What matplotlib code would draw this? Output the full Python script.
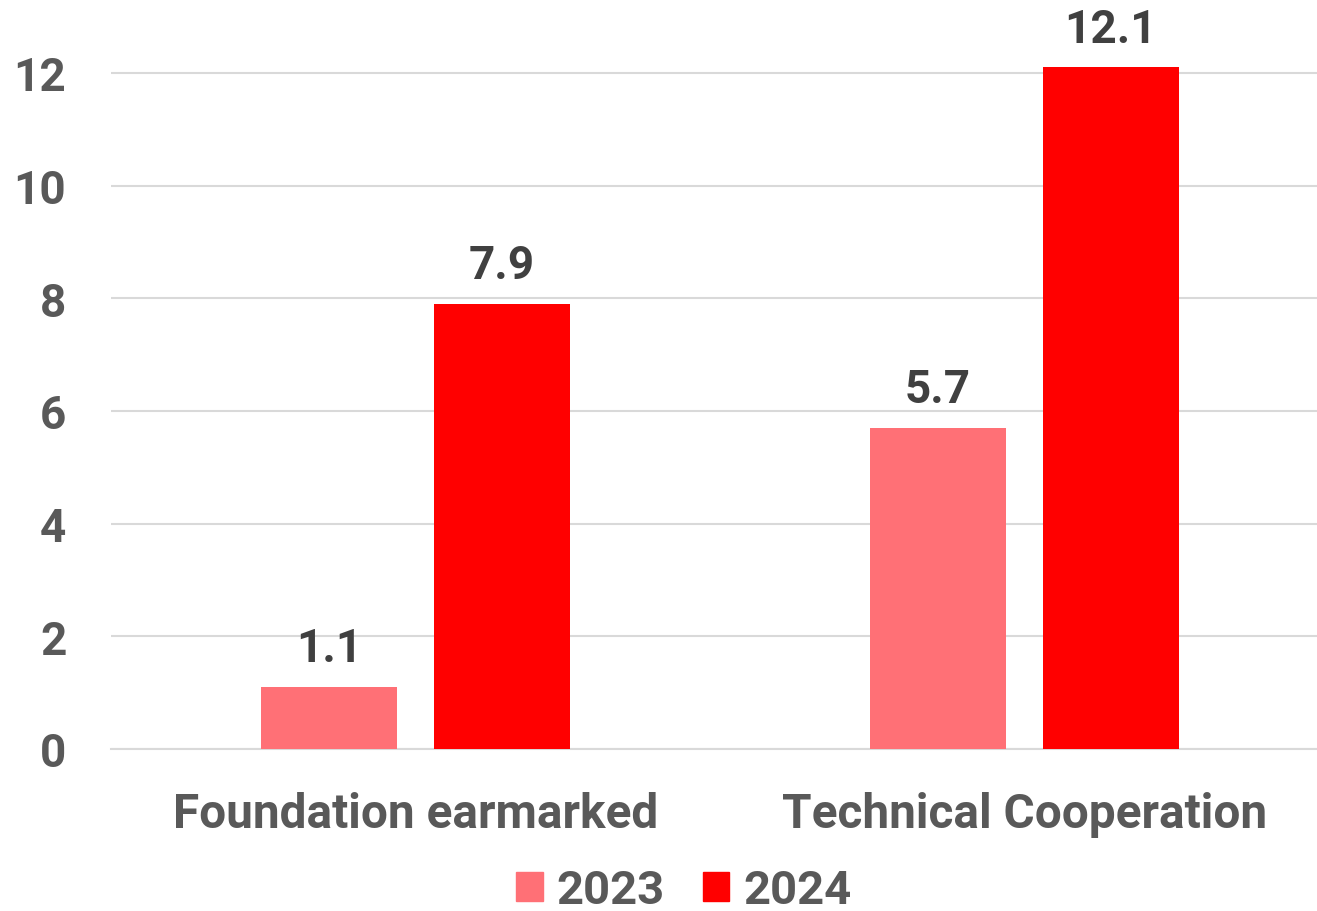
import matplotlib
matplotlib.use("Agg")
import matplotlib.pyplot as plt
import numpy as np
from matplotlib.patches import Patch

categories = ["Foundation earmarked", "Technical Cooperation"]
series_names = ["2023", "2024"]
values_2023 = [1.1, 5.7]
values_2024 = [7.9, 12.1]
yticks = [0, 2, 4, 6, 8, 10, 12]

colors = ["#FF7076", "#FF0000"]
tick_color = "#595959"
label_color = "#404040"

plt.rcParams['font.family'] = ['Roboto', 'DejaVu Sans']
plt.rcParams['font.weight'] = 'bold'

fig = plt.figure(figsize=(13.17, 9.12), dpi=100)
ax = fig.add_axes([110.75/1317, 162/912, 1218.25/1317, 750/912])

x = np.arange(len(categories))
w = 0.223
off = 0.142
for vals, c, o in [(values_2023, colors[0], -off), (values_2024, colors[1], off)]:
    bars = ax.bar(x + o, vals, width=w, color=c, zorder=3)
    for b, v in zip(bars, vals):
        ax.annotate(f"{v:.1f}", (b.get_x() + b.get_width()/2, v), xytext=(0, 12),
                    textcoords="offset points", ha="center", va="bottom",
                    fontsize=33, fontweight="bold", color=label_color, annotation_clip=False)

ax.set_xlim(-0.5, 1.5)
ax.set_ylim(0, 13.31)
ax.set_yticks(yticks)
ax.set_xticks(x)
ax.set_xticklabels(categories)
ax.tick_params(axis='y', length=0, pad=32, labelsize=33, labelcolor=tick_color)
ax.tick_params(axis='x', length=0, pad=30, labelsize=34.4, labelcolor=tick_color)
for lab in ax.get_xticklabels() + ax.get_yticklabels():
    lab.set_fontweight('bold')
ax.grid(axis='y', color='#D9D9D9', linewidth=1.5, zorder=0)
for s in ['top', 'right', 'left']:
    ax.spines[s].set_visible(False)
ax.spines['bottom'].set_color('#D9D9D9')
ax.spines['bottom'].set_linewidth(1.5)

handles = [Patch(color=c) for c in colors]
leg = fig.legend(handles, series_names, loc='center', bbox_to_anchor=(684/1317, 1 - 891/912),
                 ncol=2, frameon=False, fontsize=34, handlelength=0.56, handleheight=0.56,
                 handletextpad=0.3, columnspacing=0.8, borderpad=0.2)
for t in leg.get_texts():
    t.set_color(tick_color)
    t.set_fontweight('bold')

fig.savefig("out.png", dpi=100)
